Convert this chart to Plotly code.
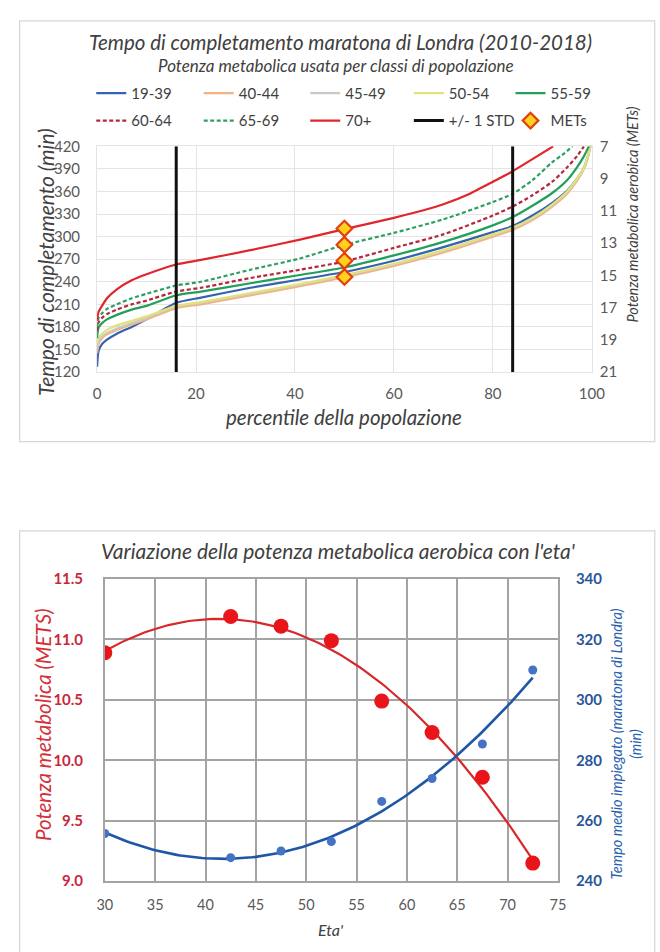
import numpy as np
import plotly.graph_objects as go

W, H = 660, 952
FONT = "Lato, 'Open Sans', sans-serif"
GREY_TXT = "#404040"
TICK_TXT = "#595959"

# ---------------- Top chart: finish time vs population percentile ----------------
pct_low = [0, 0.3, 1, 2, 4, 7, 10, 16, 21, 31, 41, 50, 60, 70, 80, 84, 88, 92, 95, 97, 98.5, 99.3, 99.7]
t_19_39 = [127, 148, 157, 163, 171, 180, 190, 212, 219, 232, 243, 253, 268, 286, 306, 314, 328, 345, 361, 377, 393, 409, 420]
t_40_44 = [145, 157, 165, 170, 176, 183, 190, 205, 210, 222, 234, 246, 261, 279, 300, 309, 322, 340, 357, 374, 391, 408, 420]
t_45_49 = [150, 160, 167, 172, 178, 185, 192, 207, 212, 224, 236, 248, 263, 281, 302, 311, 324, 342, 359, 376, 392, 409, 420]
t_50_54 = [158, 165, 171, 176, 182, 188, 194, 208, 213, 225, 237, 249, 264, 282, 303, 312, 325, 343, 360, 377, 393, 410, 420]

pct_55_59 = [0, 0.3, 1, 2, 4, 7, 10, 16, 21, 31, 41, 50, 60, 70, 80, 84, 88, 92, 95, 97, 98.5, 99.4]
t_55_59 = [165, 179, 185, 190, 196, 203, 208, 222, 227, 238, 249, 259, 275, 293, 315, 326, 341, 358, 375, 392, 408, 420]

pct_60_64 = [0, 0.3, 1, 2, 4, 7, 10, 16, 21, 31, 41, 50, 60, 70, 80, 84, 88, 92, 95, 97, 98.4]
t_60_64 = [175, 186, 192, 197, 203, 210, 215, 227, 232, 245, 256, 267, 285, 303, 328, 340, 355, 373, 392, 407, 420]

pct_65_69 = [0, 0.3, 1, 2, 4, 7, 10, 16, 21, 31, 41, 50, 60, 70, 80, 84, 88, 92, 94.5, 96.1]
t_65_69 = [180, 192, 198, 204, 210, 218, 224, 235, 240, 256, 271, 289, 305, 323, 346, 357, 375, 399, 411, 420]

pct_70 = [0, 0.3, 1, 2, 4, 7, 10, 16, 21, 31, 41, 50, 60, 66, 70, 75, 80, 84, 88, 92.2]
t_70 = [188, 200, 208, 218, 230, 242, 250, 263, 269, 282, 296, 310, 325, 335, 343, 356, 373, 387, 403, 420]

std_pct = [16, 84]            # +/- 1 standard deviation percentiles
met_pct = [50, 50, 50, 50]    # METs markers at the median
met_val = [12.1, 13.1, 14.1, 15.1]

# ---------------- Bottom chart: metabolic power and mean time vs age ----------------
age = [30, 42.5, 47.5, 52.5, 57.5, 62.5, 67.5, 72.5]
mets = [10.89, 11.19, 11.11, 10.99, 10.49, 10.23, 9.86, 9.15]
mean_time = [255.8, 247.8, 250.0, 253.1, 266.4, 274.0, 285.4, 309.9]

RED = "#e8161b"
BLUE_PT = "#4472c4"
BLUE_LN = "#1f56a5"


def px_x(v):
    return v / W


def px_y(v):
    return 1 - v / H


fig = go.Figure()

series = [
    ("19-39", pct_low, t_19_39, "#3563b0", None),
    ("40-44", pct_low, t_40_44, "#f4b183", None),
    ("45-49", pct_low, t_45_49, "#c9c9c9", None),
    ("50-54", pct_low, t_50_54, "#e2e27a", None),
    ("55-59", pct_55_59, t_55_59, "#22a05a", None),
    ("60-64", pct_60_64, t_60_64, "#b3283c", "4px,2.5px"),
    ("65-69", pct_65_69, t_65_69, "#2e9e64", "4px,2.5px"),
    ("70+", pct_70, t_70, "#e0262a", None),
]

# legend slots: one single-entry legend per item, two rows of five
legend_cols = [86, 197, 307, 414, 519]
legend_rows = [85, 113]
legend_ids = ["legend"] + [f"legend{k}" for k in range(2, 11)]

for i, (name, xs, ys, col, dash) in enumerate(series):
    fig.add_trace(go.Scatter(
        x=xs, y=ys, mode="lines", name=name,
        line=dict(color=col, width=2.2, dash=dash, shape="spline", smoothing=0.6),
        xaxis="x", yaxis="y", legend=legend_ids[i],
    ))

# two vertical +/-1 STD lines as one trace
std_x, std_y = [], []
for p in std_pct:
    std_x += [p, p, None]
    std_y += [120, 420, None]
fig.add_trace(go.Scatter(
    x=std_x, y=std_y, mode="lines", name="+/- 1 STD",
    line=dict(color="#111111", width=3), xaxis="x", yaxis="y", legend=legend_ids[8],
))
fig.add_trace(go.Scatter(
    x=met_pct, y=met_val, mode="markers", name="METs",
    marker=dict(symbol="diamond", size=12, color="#ffd21f",
                line=dict(color="#e2400f", width=2.2)),
    xaxis="x", yaxis="y2", legend=legend_ids[9],
))

# bottom chart: points and quadratic trend lines
xx = np.linspace(min(age), max(age), 120)
fit_m = np.polyval(np.polyfit(age, mets, 2), xx)
fit_t = np.polyval(np.polyfit(age, mean_time, 2), xx)

fig.add_trace(go.Scatter(x=xx, y=fit_m, mode="lines", line=dict(color="#d7282c", width=2.2),
                         xaxis="x2", yaxis="y3", showlegend=False))
fig.add_trace(go.Scatter(x=xx, y=fit_t, mode="lines", line=dict(color=BLUE_LN, width=2.6),
                         xaxis="x2", yaxis="y4", showlegend=False))
fig.add_trace(go.Scatter(x=age, y=mets, mode="markers", marker=dict(size=15, color=RED),
                         xaxis="x2", yaxis="y3", showlegend=False))
fig.add_trace(go.Scatter(x=age, y=mean_time, mode="markers", marker=dict(size=9, color=BLUE_PT),
                         xaxis="x2", yaxis="y4", showlegend=False))

top_dom_x = [px_x(92), px_x(603)]
top_dom_y = [px_y(369), px_y(139)]
bot_dom_x = [px_x(100), px_x(568)]
bot_dom_y = [px_y(888), px_y(580)]

light_grid = "#e4e4e4"
dark_grid = "#a3a3a3"

layout = dict(
    width=W, height=H,
    margin=dict(l=0, r=0, t=0, b=0),
    paper_bgcolor="white", plot_bgcolor="white",
    font=dict(family=FONT, color=GREY_TXT),
    xaxis=dict(domain=top_dom_x, anchor="y", range=[0, 100], tickvals=[0, 20, 40, 60, 80, 100],
               showgrid=True, gridcolor=light_grid, gridwidth=1, zeroline=False,
               showline=True, linecolor=light_grid, mirror=True,
               tickfont=dict(size=15, color=TICK_TXT), ticklabelstandoff=8),
    yaxis=dict(domain=top_dom_y, anchor="x", range=[120, 420], tickvals=list(range(120, 421, 30)),
               showgrid=True, gridcolor=light_grid, gridwidth=1, zeroline=False,
               showline=True, linecolor=light_grid, mirror=True,
               tickfont=dict(size=15, color=TICK_TXT), ticklabelstandoff=13),
    yaxis2=dict(overlaying="y", side="right", anchor="x", range=[21, 7],
                tickvals=list(range(7, 22, 2)), showgrid=False, zeroline=False,
                tickfont=dict(size=15, color=TICK_TXT), ticklabelstandoff=7),
    xaxis2=dict(domain=bot_dom_x, anchor="y3", range=[30, 75], tickvals=list(range(30, 76, 5)),
                showgrid=True, gridcolor=dark_grid, gridwidth=1.5, zeroline=False,
                showline=True, linecolor=dark_grid, linewidth=1.5, mirror=True,
                tickfont=dict(size=14.5, color=TICK_TXT), ticklabelstandoff=10),
    yaxis3=dict(domain=bot_dom_y, anchor="x2", range=[9.0, 11.5], tickvals=[9.0, 9.5, 10.0, 10.5, 11.0, 11.5],
                tickformat=".1f", showgrid=True, gridcolor=dark_grid, gridwidth=1.5, zeroline=False,
                showline=True, linecolor=dark_grid, linewidth=1.5, mirror=True,
                tickfont=dict(size=15, color="#c8283a", weight="bold"), ticklabelstandoff=17),
    yaxis4=dict(overlaying="y3", side="right", anchor="x2", range=[240, 340],
                tickvals=list(range(240, 341, 20)), showgrid=False, zeroline=False,
                tickfont=dict(size=15, color="#2a5699", weight="bold"), ticklabelstandoff=17),
)

for k, lid in enumerate(legend_ids):
    layout[lid] = dict(
        orientation="h", x=px_x(legend_cols[k % 5]), y=px_y(legend_rows[k // 5]),
        xanchor="left", yanchor="middle", itemwidth=30,
        font=dict(size=15, color=GREY_TXT), bgcolor="rgba(0,0,0,0)",
    )

fig.update_layout(**layout)

# chart frames
frame = "#d6d6d6"
fig.add_shape(type="rect", xref="paper", yref="paper", x0=px_x(12), x1=px_x(668),
              y0=px_y(440), y1=px_y(11), line=dict(color=frame, width=1.2), layer="below")
fig.add_shape(type="rect", xref="paper", yref="paper", x0=px_x(12), x1=px_x(668),
              y0=px_y(965), y1=px_y(531), line=dict(color=frame, width=1.2), layer="below")


def note(text, x, y, size, color=GREY_TXT, angle=0, italic=True, xanchor="center"):
    fig.add_annotation(text=f"<i>{text}</i>" if italic else text, x=px_x(x), y=px_y(y),
                       xref="paper", yref="paper", showarrow=False, textangle=angle,
                       xanchor=xanchor, yanchor="middle",
                       font=dict(size=size, color=color, family=FONT))


note("Tempo di completamento maratona di Londra (2010-2018)", 343, 33, 20.5)
note("Potenza metabolica usata per classi di popolazione", 339, 57, 17)
note("Tempo di completamento (min)", 38, 257, 21, angle=-90)
note("percentile della popolazione", 347, 415, 20.5)
note("Potenza metabolica aerobica (METs)", 645, 208, 14.5, angle=-90)

note("Variazione della potenza metabolica aerobica con l'eta'", 341, 551, 21)
note("Potenza metabolica (METS)", 36, 728, 20.5, color="#d4303a", angle=-90)
note("Tempo medio impiegato (maratona di Londra)<br>(min)", 638, 748, 14.5, color="#2a5fb0", angle=-90)
note("Eta'", 333, 937, 16)

fig.write_html("out.html")
